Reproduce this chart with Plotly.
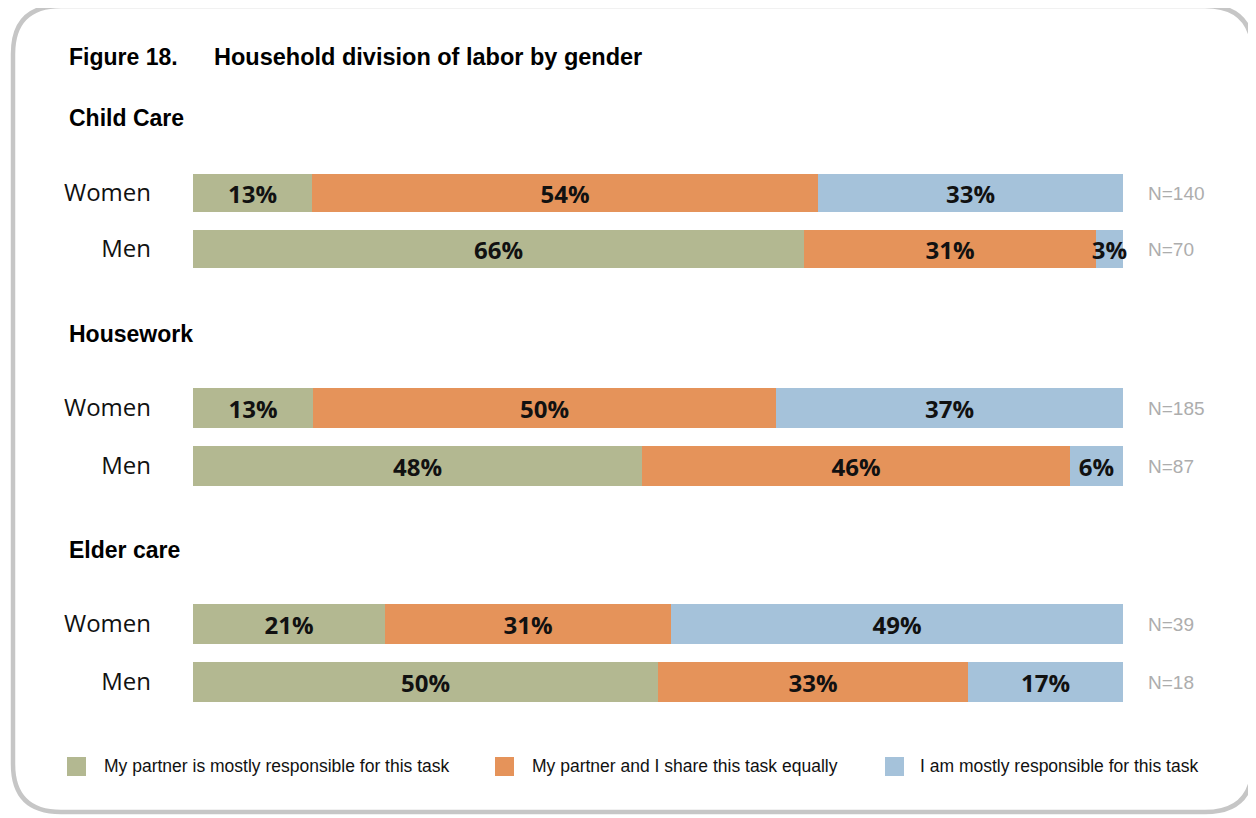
import plotly.graph_objects as go

# the page body adds an 8px margin; the figure is sized to fill the rest
OFF = 8
W, H = 1256 - OFF, 818 - OFF

title_label = "Figure 18."
title_text = "Household division of labor by gender"
sections = ["Child Care", "Housework", "Elder care"]
groups = ["Women", "Men"]
series_names = [
    "My partner is mostly responsible for this task",
    "My partner and I share this task equally",
    "I am mostly responsible for this task",
]
colors = ["#B3B891", "#E5935A", "#A5C2DA"]

partner_pct = [[12.8, 65.7], [12.9, 48.3], [20.6, 50.0]]
shared_pct = [[54.4, 31.4], [49.8, 46.0], [30.8, 33.3]]
self_pct = [[32.8, 2.9], [37.3, 5.7], [48.6, 16.7]]
n_counts = [[140, 70], [185, 87], [39, 18]]

series_values = [partner_pct, shared_pct, self_pct]


def px_x(p):
    return (p - OFF) / W


def px_y(p):
    return 1 - (p - OFF) / H


# pixel layout of each section (top, bottom of category band)
section_bands = [(165, 277), (379, 495), (595, 711)]
heading_y = [118, 334, 550]

fig = go.Figure()

for s, sec in enumerate(sections):
    xa = "x" if s == 0 else f"x{s+1}"
    ya = "y" if s == 0 else f"y{s+1}"
    for k, name in enumerate(series_names):
        fig.add_trace(go.Bar(
            y=groups,
            x=series_values[k][s],
            orientation="h",
            name=name,
            marker=dict(color=colors[k], line=dict(width=0)),
            width=0.69,
            text=series_values[k][s],
            texttemplate="%{x:.0f}%",
            textposition="inside",
            insidetextanchor="middle",
            textangle=0,
            cliponaxis=False,
            textfont=dict(family="Open Sans", size=24, color="#111111", weight="bold"),
            xaxis=xa,
            yaxis=ya,
            showlegend=False,
            hoverinfo="skip",
        ))

layout = dict(
    width=W, height=H,
    margin=dict(l=0, r=0, t=0, b=0, pad=0),
    paper_bgcolor="white",
    plot_bgcolor="white",
    barmode="stack",
    bargap=0,
    uniformtext=dict(minsize=24, mode="show"),
    showlegend=False,
)

for s in range(3):
    xkey = "xaxis" if s == 0 else f"xaxis{s+1}"
    ykey = "yaxis" if s == 0 else f"yaxis{s+1}"
    top, bot = section_bands[s]
    layout[xkey] = dict(
        domain=[px_x(193), px_x(1123)],
        range=[0, 100],
        showgrid=False, zeroline=False, showticklabels=False, showline=False,
        anchor="y" if s == 0 else f"y{s+1}",
        fixedrange=True,
    )
    layout[ykey] = dict(
        domain=[px_y(bot), px_y(top)],
        type="category",
        categoryorder="array",
        categoryarray=groups,
        range=[1.5, -0.5],
        showgrid=False, zeroline=False, showline=False,
        ticks="",
        ticklabelstandoff=41,
        tickfont=dict(family="Open Sans", size=24, color="#111111"),
        anchor="x" if s == 0 else f"x{s+1}",
        fixedrange=True,
    )

fig.update_layout(**layout)

bold_font = dict(family="Liberation Sans, Arial", size=23, color="#000000")
annotations = []
# title
annotations.append(dict(
    x=px_x(67), y=px_y(57), xref="paper", yref="paper",
    text=f"<b>{title_label}</b>", showarrow=False, xanchor="left", yanchor="middle",
    font=bold_font,
))
annotations.append(dict(
    x=px_x(212), y=px_y(57), xref="paper", yref="paper",
    text=f"<b>{title_text}</b>", showarrow=False, xanchor="left", yanchor="middle",
    font=dict(family="Liberation Sans, Arial", size=23.5, color="#000000"),
))
# section headings and N labels
for s, sec in enumerate(sections):
    annotations.append(dict(
        x=px_x(67), y=px_y(heading_y[s]), xref="paper", yref="paper",
        text=f"<b>{sec}</b>", showarrow=False, xanchor="left", yanchor="middle",
        font=bold_font,
    ))
    ya = "y" if s == 0 else f"y{s+1}"
    for g, grp in enumerate(groups):
        annotations.append(dict(
            x=px_x(1146), y=grp, xref="paper", yref=ya,
            text=f"N={n_counts[s][g]}", showarrow=False, xanchor="left", yanchor="middle",
            font=dict(family="Liberation Sans, Arial", size=19, color="#ADADAD"),
        ))

# custom legend
legend_sq_x = [67, 495, 885]
legend_txt_x = [102, 530, 918]
shapes = []
for k, name in enumerate(series_names):
    shapes.append(dict(
        type="rect", xref="paper", yref="paper",
        x0=px_x(legend_sq_x[k]), x1=px_x(legend_sq_x[k] + 19),
        y0=px_y(776), y1=px_y(757),
        fillcolor=colors[k], line=dict(width=0),
    ))
    annotations.append(dict(
        x=px_x(legend_txt_x[k]), y=px_y(766), xref="paper", yref="paper",
        text=name, showarrow=False, xanchor="left", yanchor="middle",
        font=dict(family="Liberation Sans, Arial", size=17.5, color="#111111"),
    ))

# rounded border
L, T, R, B, r = 13, 6, 1253, 812, 48
pts = [
    ("M", [(L + r, T)]),
    ("L", [(R - r, T)]),
    ("Q", [(R, T), (R, T + r)]),
    ("L", [(R, B - r)]),
    ("Q", [(R, B), (R - r, B)]),
    ("L", [(L + r, B)]),
    ("Q", [(L, B), (L, B - r)]),
    ("L", [(L, T + r)]),
    ("Q", [(L, T), (L + r, T)]),
]
path = ""
for cmd, ps in pts:
    path += cmd + " " + " ".join(f"{px_x(a):.5f},{px_y(b):.5f}" for a, b in ps) + " "
path += "Z"
shapes.append(dict(type="path", xref="paper", yref="paper", path=path,
                   line=dict(color="#C6C6C6", width=4.5), fillcolor="rgba(0,0,0,0)", layer="below"))

fig.update_layout(annotations=annotations, shapes=shapes)

fig.write_html("out.html")
